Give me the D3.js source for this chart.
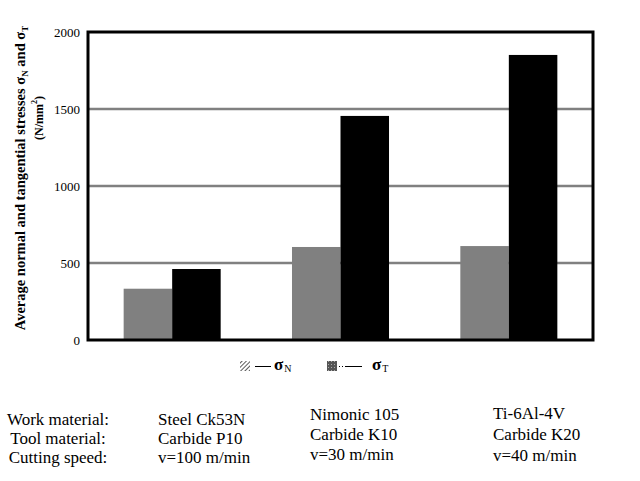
<!DOCTYPE html>
<html>
<head>
<meta charset="utf-8">
<script src="https://cdn.jsdelivr.net/npm/d3@7"></script>
<style>
  html, body { margin: 0; padding: 0; background: #fff; }
  svg { display: block; }
</style>
</head>
<body>
<svg id="chart" width="640" height="481"></svg>
<script>
// ---- data ----
const materials = ["Steel Ck53N", "Nimonic 105", "Ti-6Al-4V"];
const tools = ["Carbide P10", "Carbide K10", "Carbide K20"];
const speeds = ["v=100 m/min", "v=30 m/min", "v=40 m/min"];
const seriesKeys = ["N", "T"];
const sigmaN = [333, 604, 610];
const sigmaT = [461, 1455, 1851];
const yTicks = [0, 500, 1000, 1500, 2000];
const gridTicks = [500, 1000, 1500];
const rowLabels = ["Work material:", "Tool material:", "Cutting speed:"];

// ---- layout ----
const plot = { left: 88, right: 593, top: 32, bottom: 340 };
const serif = "'Liberation Serif', 'Times New Roman', serif";
const colors = { N: "#808080", T: "#000000" };

const svg = d3.select("#chart");
const defs = svg.append("defs");
const hatch = defs.append("pattern").attr("id", "hatch").attr("patternUnits", "userSpaceOnUse")
  .attr("width", 3).attr("height", 3).attr("patternTransform", "rotate(45)");
hatch.append("rect").attr("width", 3).attr("height", 3).attr("fill", "#fff");
hatch.append("line").attr("x1", 0).attr("y1", 0).attr("x2", 0).attr("y2", 3)
  .attr("stroke", "#222").attr("stroke-width", 1.5);
const stip = defs.append("pattern").attr("id", "stip").attr("patternUnits", "userSpaceOnUse")
  .attr("width", 3).attr("height", 3);
stip.append("rect").attr("width", 3).attr("height", 3).attr("fill", "#555");
stip.append("rect").attr("x", 1).attr("y", 1).attr("width", 1).attr("height", 1).attr("fill", "#aaa");

const x0 = d3.scaleBand().domain(materials).range([plot.left, plot.right]).padding(0);
const x1 = d3.scaleBand().domain(seriesKeys).range([0, x0.bandwidth()])
  .paddingInner(0).paddingOuter(0.735);
const y = d3.scaleLinear().domain([0, 2000]).range([plot.bottom, plot.top]);

// gridlines
svg.append("g").selectAll("line").data(gridTicks).join("line")
  .attr("x1", plot.left).attr("x2", plot.right)
  .attr("y1", d => y(d)).attr("y2", d => y(d))
  .attr("stroke", "#808080").attr("stroke-width", 2.5);

// bars
const groups = svg.append("g").selectAll("g").data(materials).join("g")
  .attr("transform", d => `translate(${x0(d)},0)`);
groups.selectAll("rect")
  .data((d, i) => [{ k: "N", v: sigmaN[i] }, { k: "T", v: sigmaT[i] }])
  .join("rect")
  .attr("x", d => x1(d.k)).attr("width", x1.bandwidth())
  .attr("y", d => y(d.v)).attr("height", d => y(0) - y(d.v))
  .attr("fill", d => colors[d.k]);

// frame
svg.append("rect").attr("x", plot.left).attr("y", plot.top)
  .attr("width", plot.right - plot.left).attr("height", plot.bottom - plot.top)
  .attr("fill", "none").attr("stroke", "#000").attr("stroke-width", 3);

// y axis labels
const yAxis = svg.append("g").attr("transform", `translate(${plot.left},0)`)
  .call(d3.axisLeft(y).tickValues(yTicks).tickSize(0).tickPadding(8).tickFormat(d3.format("d")));
yAxis.select(".domain").remove();
yAxis.selectAll("text").attr("font-family", serif).attr("font-size", 13).attr("fill", "#000");

// y title
const t1 = svg.append("text").attr("transform", "translate(25,178) rotate(-90)")
  .attr("text-anchor", "middle").attr("font-family", serif).attr("font-weight", "bold")
  .attr("font-size", 14.5);
t1.append("tspan").text("Average normal and tangential stresses σ");
t1.append("tspan").attr("font-size", 9).attr("dy", 3).text("N");
t1.append("tspan").attr("dy", -3).text(" and σ");
t1.append("tspan").attr("font-size", 9).attr("dy", 3).text("T");

const t2 = svg.append("text").attr("transform", "translate(43,118) rotate(-90)")
  .attr("text-anchor", "middle").attr("font-family", serif).attr("font-weight", "bold")
  .attr("font-size", 12);
t2.append("tspan").text("(N/mm");
t2.append("tspan").attr("font-size", 8).attr("dy", -6).text("2");
t2.append("tspan").attr("dy", 6).text(")");

// legend
const legend = svg.append("g");
legend.append("rect").attr("x", 240).attr("y", 361).attr("width", 10).attr("height", 10).attr("fill", "url(#hatch)");
legend.append("line").attr("x1", 255).attr("x2", 271).attr("y1", 366.5).attr("y2", 366.5).attr("stroke", "#000").attr("stroke-width", 1);
const l1 = legend.append("text").attr("x", 274).attr("y", 370).attr("font-family", serif).attr("font-size", 17).attr("font-weight", "bold");
l1.append("tspan").text("σ");
l1.append("tspan").attr("font-size", 10).attr("font-weight", "normal").attr("dy", 2).attr("dx", 1).text("N");
legend.append("rect").attr("x", 327).attr("y", 361).attr("width", 10).attr("height", 10).attr("fill", "url(#stip)");
legend.append("line").attr("x1", 339).attr("x2", 345).attr("y1", 366.5).attr("y2", 366.5).attr("stroke", "#000").attr("stroke-width", 1).attr("stroke-dasharray", "1,2");
legend.append("line").attr("x1", 345).attr("x2", 362).attr("y1", 366.5).attr("y2", 366.5).attr("stroke", "#000").attr("stroke-width", 1);
const l2 = legend.append("text").attr("x", 372).attr("y", 370).attr("font-family", serif).attr("font-size", 17).attr("font-weight", "bold");
l2.append("tspan").text("σ");
l2.append("tspan").attr("font-size", 10).attr("font-weight", "normal").attr("dy", 2).attr("dx", 1).text("T");

// table below
const rowYs = [[425, 444, 463], [425, 444, 463], [420, 440, 460], [419, 440, 461]];
const colX = [158, 310, 493];
const table = svg.append("g").attr("font-family", serif).attr("font-size", 17).attr("fill", "#000");
table.selectAll("text.rl").data(rowLabels).join("text").attr("class", "rl")
  .attr("x", 58).attr("y", (d, i) => rowYs[0][i]).attr("text-anchor", "middle").text(d => d);
const cols = materials.map((m, i) => [m, tools[i], speeds[i]]);
cols.forEach((col, ci) => {
  table.selectAll(`text.c${ci}`).data(col).join("text").attr("class", `c${ci}`)
    .attr("x", colX[ci]).attr("y", (d, ri) => rowYs[ci + 1][ri]).text(d => d);
});
</script>
</body>
</html>
